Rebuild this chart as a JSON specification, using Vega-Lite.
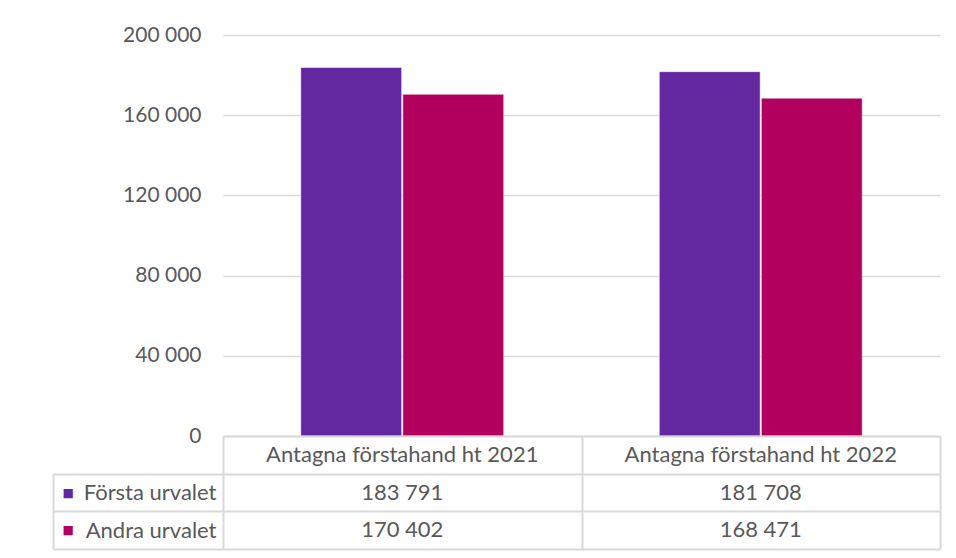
{
  "$schema": "https://vega.github.io/schema/vega-lite/v6.json",
  "background": "white",
  "padding": {"left": 52, "top": 24, "right": 14, "bottom": 8},
  "spacing": 0,
  "bounds": "flush",
  "config": {
    "locale": {"number": {"decimal": ",", "thousands": " ", "grouping": [3], "currency": ["", " kr"]}},
    "font": "Lato",
    "view": {"stroke": null}
  },
  "resolve": {"scale": {"x": "independent", "y": "independent", "color": "independent"}},
  "datasets": {
    "d": [
      {"kategori": "Antagna förstahand ht 2021", "serie": "Första urvalet", "value": 183791},
      {"kategori": "Antagna förstahand ht 2021", "serie": "Andra urvalet", "value": 170402},
      {"kategori": "Antagna förstahand ht 2022", "serie": "Första urvalet", "value": 181708},
      {"kategori": "Antagna förstahand ht 2022", "serie": "Andra urvalet", "value": 168471}
    ]
  },
  "vconcat": [
    {
      "width": 717,
      "height": 401,
      "data": {"name": "d"},
      "mark": {"type": "bar", "stroke": "white", "strokeWidth": 0.5},
      "encoding": {
        "x": {"field": "kategori", "type": "nominal", "sort": null,
              "scale": {"paddingInner": 0.434, "paddingOuter": 0.217}, "axis": null},
        "xOffset": {"field": "serie", "type": "nominal", "sort": ["Första urvalet", "Andra urvalet"],
                    "scale": {"paddingInner": 0.012}},
        "y": {"field": "value", "type": "quantitative",
              "scale": {"domain": [0, 200000]},
              "axis": {"values": [0, 40000, 80000, 120000, 160000, 200000], "format": ",d",
                       "domain": false, "ticks": false, "grid": true, "gridColor": "#D9D9D9", "gridWidth": 1.3,
                       "labelPadding": 22, "labelFontSize": 21, "labelColor": "#595959", "labelFont": "Lato", "title": null}},
        "color": {"field": "serie", "type": "nominal",
                  "scale": {"domain": ["Första urvalet", "Andra urvalet"], "range": ["#6328A0", "#B1005D"]},
                  "legend": null}
      }
    },
    {
      "width": 717,
      "height": 113,
      "data": {"name": "d"},
      "resolve": {"scale": {"y": "independent"}, "axis": {"y": "independent"}},
      "layer": [
        {
          "mark": {"type": "text", "fontSize": 22, "color": "#595959", "font": "Lato"},
          "encoding": {
            "x": {"field": "kategori", "type": "nominal", "sort": null,
                  "scale": {"type": "band", "paddingInner": 0, "paddingOuter": 0},
                  "axis": {"tickBand": "extent", "grid": true, "gridColor": "#D9D9D9", "gridWidth": 2,
                           "labels": false, "ticks": false, "domain": false, "title": null}},
            "y": {"field": "serie", "type": "nominal",
                  "scale": {"type": "band", "domain": ["header", "Första urvalet", "Andra urvalet"], "paddingInner": 0, "paddingOuter": 0},
                  "axis": {"orient": "left", "tickBand": "extent", "grid": true, "gridColor": "#D9D9D9", "gridWidth": 2,
                           "ticks": true, "tickSize": 170, "tickWidth": 2,
                           "tickColor": {"condition": {"test": "!!datum.extra", "value": "rgba(255,255,255,0)"}, "value": "#D9D9D9"},
                           "labelExpr": "datum.value === 'header' ? '' : datum.value",
                           "labelPadding": -163, "labelFontSize": 22, "labelColor": "#595959", "labelFont": "Lato",
                           "domain": false, "title": null}},
            "text": {"field": "value", "type": "quantitative", "format": ",d"}
          }
        },
        {
          "transform": [{"filter": "datum.serie === 'Första urvalet'"}],
          "mark": {"type": "text", "fontSize": 22, "color": "#595959", "font": "Lato"},
          "encoding": {
            "x": {"field": "kategori", "type": "nominal", "sort": null},
            "y": {"datum": "header", "type": "nominal",
                  "scale": {"type": "band", "domain": ["header", "Första urvalet", "Andra urvalet"], "paddingInner": 0, "paddingOuter": 0},
                  "axis": {"orient": "left", "offset": 170, "domain": true, "domainColor": "#D9D9D9", "domainWidth": 2,
                           "domainDash": [0, 37.7, 300],
                           "ticks": false, "grid": false,
                           "labelExpr": "datum.value === 'header' ? '' : '■'",
                           "labelAlign": "left", "labelPadding": -9, "labelFontSize": 12, "labelFont": "DejaVu Sans",
                           "labelColor": {"condition": {"test": "datum.value === 'Första urvalet'", "value": "#6328A0"}, "value": "#B1005D"},
                           "title": null}},
            "text": {"field": "kategori", "type": "nominal"}
          }
        }
      ]
    }
  ]
}
